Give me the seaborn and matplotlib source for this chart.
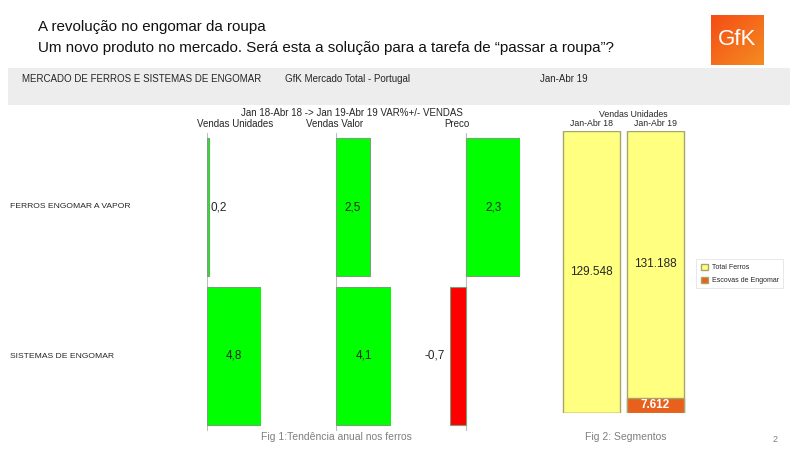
import numpy as np
import pandas as pd
import matplotlib
matplotlib.use("Agg")
import matplotlib.pyplot as plt
import seaborn as sns
from matplotlib.patches import Rectangle, Patch

# ---------------- data ----------------
categories = ["FERROS ENGOMAR A VAPOR", "SISTEMAS DE ENGOMAR"]
panel_titles = ["Vendas Unidades", "Vendas Valor", "Preco"]
var_unidades = [0.2, 4.8]
var_valor = [2.5, 4.1]
var_preco = [2.3, -0.7]

periods = ["Jan-Abr 18", "Jan-Abr 19"]
total_ferros = [129548, 131188]
escovas = [0, 7612]
segments = ["Total Ferros", "Escovas de Engomar"]

sns.set_theme(style="white")
plt.rcParams["font.family"] = ["Liberation Sans", "DejaVu Sans"]
NARROW = ["Liberation Sans Narrow", "Liberation Sans", "DejaVu Sans"]

W, H = 800, 450
fig = plt.figure(figsize=(8, 4.5), dpi=100)
fig.patch.set_facecolor("white")


def rect(x0, y0, x1, y1):
    return [x0 / W, 1 - y1 / H, (x1 - x0) / W, (y1 - y0) / H]


def ftext(x, y, s, **kw):
    fig.text(x / W, 1 - y / H, s, **kw)


# ---------------- header ----------------
ftext(38, 27, "A revolução no engomar da roupa", fontsize=10.9, va="center", family=NARROW, color="#111111")
ftext(38, 48, "Um novo produto no mercado. Será esta a solução para a tarefa de \u201cpassar a roupa\u201d?",
      fontsize=10.9, va="center", family=NARROW, color="#111111")

# gray band
fig.patches.append(Rectangle((8 / W, 1 - 105 / H), (790 - 8) / W, (105 - 68) / H,
                             transform=fig.transFigure, facecolor="#EDEDED", edgecolor="none", zorder=0))
ftext(22, 79, "MERCADO DE FERROS E SISTEMAS DE ENGOMAR", fontsize=7, va="center", family=NARROW)
ftext(285, 79, "GfK Mercado Total - Portugal", fontsize=7, va="center", family=NARROW)
ftext(540, 79, "Jan-Abr 19", fontsize=7, va="center", family=NARROW)

# logo
axl = fig.add_axes(rect(711, 15, 763, 65))
grad = np.linspace(0, 1, 100)
img = np.zeros((100, 100, 3))
g = (grad[None, :] * 0.5 + grad[:, None] * 0.5)
img[..., 0] = 0.96
img[..., 1] = 0.30 + 0.25 * g
img[..., 2] = 0.08 + 0.05 * g
axl.imshow(img, extent=[0, 1, 0, 1], aspect="auto")
axl.text(0.5, 0.5, "GfK", color="white", fontsize=16, ha="center", va="center", family=NARROW)
axl.set_axis_off()

# ---------------- Fig 1 ----------------
ftext(352, 113, "Jan 18-Abr 18 -> Jan 19-Abr 19 VAR%+/- VENDAS", fontsize=7, ha="center", va="center")

panels = [
    (var_unidades, (207, 261), panel_titles[0], 235),
    (var_valor, (336, 391), panel_titles[1], 335),
    (var_preco, (450, 520), panel_titles[2], 457),
]
for vals, (px0, px1), title, tx in panels:
    lo = min(0, min(vals))
    hi = max(vals)
    ax = fig.add_axes(rect(px0, 132.5, px1, 430.5))
    df = pd.DataFrame({"cat": categories, "val": vals,
                       "sign": ["pos" if v >= 0 else "neg" for v in vals]})
    sns.barplot(data=df, x="val", y="cat", hue="sign", dodge=False, legend=False,
                palette={"pos": "#00FF00", "neg": "#FF0000"}, width=0.93, ax=ax,
                edgecolor="#7aa07a", linewidth=0.8, orient="h", saturation=1)
    ax.set_xlim(lo, hi)
    ax.set_ylim(1.5, -0.5)
    ax.axvline(0, color="#bdbdbd", lw=0.8, zorder=0)
    ax.set_axis_off()
    for i, v in enumerate(vals):
        lab = f"{v:.1f}".replace(".", ",")
        if abs(v) < 0.5:
            ax.text(v + (hi - lo) * 0.02, i, lab, ha="left", va="center", fontsize=8.5, clip_on=False)
        elif v < 0:
            ax.text(v - (hi - lo) * 0.08, i, lab, ha="right", va="center", fontsize=8.5, clip_on=False)
        else:
            ax.text(v / 2, i, lab, ha="center", va="center", fontsize=8.5, clip_on=False)
    ftext(tx, 124, title, fontsize=7, ha="center", va="center")

for i, c in enumerate(categories):
    ftext(10, 207 + 149 * i, c, fontsize=6.1, va="center")

ftext(336, 437, "Fig 1:Tendência anual nos ferros", fontsize=7.5, ha="center", va="center",
      color="#7f7f7f", family=NARROW)

# ---------------- Fig 2 ----------------
totals = [a + b for a, b in zip(total_ferros, escovas)]
df2 = pd.DataFrame({
    "period": periods,
    "ferros_pct": [100 * a / t for a, t in zip(total_ferros, totals)],
    "esc_pct": [100 * b / t for b, t in zip(escovas, totals)],
})
df2["top"] = df2["ferros_pct"] + df2["esc_pct"]

ax2 = fig.add_axes(rect(559.5, 131, 687.5, 413))
sns.barplot(data=df2, x="period", y="top", color="#FFFF80", edgecolor="#a9a56a", linewidth=1.0,
            width=0.89, ax=ax2, saturation=1)
sns.barplot(data=df2, x="period", y="esc_pct", color="#E8601C", edgecolor="#a9a56a", linewidth=1.0,
            width=0.89, ax=ax2, saturation=1)
ax2.set_ylim(0, 100)
ax2.set_xlim(-0.5, 1.5)
ax2.set_axis_off()
for i in range(len(periods)):
    e = df2["esc_pct"][i]
    ax2.text(i, e + (100 - e) / 2, f"{total_ferros[i]:,}".replace(",", "."), ha="center",
             va="center", fontsize=8.5)
    if escovas[i] > 0:
        ax2.text(i, e / 2, f"{escovas[i]:,}".replace(",", "."), ha="center", va="center",
                 fontsize=8.5, color="white", fontweight="bold")

ftext(633, 114, "Vendas Unidades", fontsize=6.3, ha="center", va="center")
for i, p in enumerate(periods):
    ftext(591.5 + 64 * i, 123, p, fontsize=6.3, ha="center", va="center")

leg = fig.legend(handles=[Patch(facecolor="#FFFF80", edgecolor="#a9a56a", label=segments[0]),
                          Patch(facecolor="#E8601C", edgecolor="#a9a56a", label=segments[1])],
                 loc="upper left", bbox_to_anchor=(693 / W, 1 - 256 / H), fontsize=5,
                 frameon=True, fancybox=False, handlelength=1.0, handleheight=1.0,
                 borderpad=0.6, labelspacing=0.8, handletextpad=0.6)
leg.get_frame().set_edgecolor("#dddddd")
leg.get_frame().set_linewidth(0.6)

ftext(626, 437, "Fig 2: Segmentos", fontsize=7.5, ha="center", va="center", color="#7f7f7f", family=NARROW)
ftext(775, 440, "2", fontsize=6.5, ha="center", va="center", color="#7f7f7f")

fig.savefig("out.png", dpi=100, facecolor="white")
